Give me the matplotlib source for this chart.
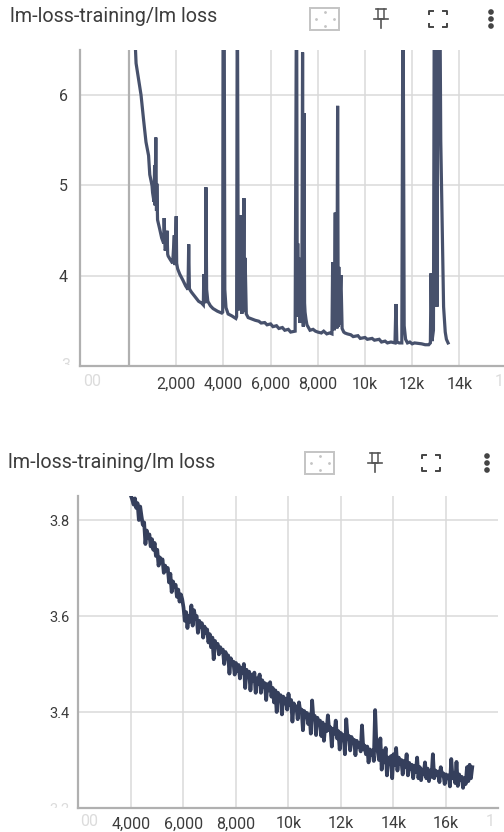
#!/usr/bin/env python3
" Two training loss panels "
import numpy as np
import matplotlib
matplotlib.use('Agg')
import matplotlib.pyplot as plt
from matplotlib.patches import Rectangle, Circle
from matplotlib.transforms import Bbox

plt.rcParams['font.family'] = ['Roboto', 'DejaVu Sans']

title = 'lm-loss-training/lm loss'

top_steps = [250, 300, 400, 510, 620, 720, 780, 830, 880, 975, 1000, 1060, 1085, 1105,
             1125, 1136, 1165, 1180, 1210, 1300, 1385, 1470, 1490, 1530, 1590, 1610, 1640,
             1660, 1750, 1850, 1920, 1950, 2000, 2020, 2060, 2150, 2290, 2400, 2500,
             2530, 2560, 2600, 2650, 2800, 2950, 3080, 3150, 3170, 3200, 3240, 3260,
             3290, 3340, 3450, 3560, 3750, 3930, 3970, 3990, 4030, 4060, 4110, 4200,
             4350, 4530, 4560, 4590, 4630, 4660, 4680, 4710, 4750, 4780, 4800, 4830,
             4870, 4900, 4920, 4970, 5050,
             5150, 5250, 5350, 5500, 5600, 5750, 5850, 6000, 6100, 6250, 6350, 6500,
             6600, 6750, 6850, 6950, 7040, 7100, 7130, 7150, 7180, 7210, 7250,
             7280, 7320, 7355, 7385, 7415, 7440, 7460, 7500, 7540, 7670, 7800, 7900, 8000,
             8150, 8250, 8380, 8500,
             8600, 8630, 8650, 8670, 8700, 8740, 8760, 8780, 8810, 8840, 8865, 8890, 8930,
             8950, 8980, 9030, 9100, 9150, 9250,
             9400, 9500, 9700, 9800, 10000, 10100, 10300, 10400, 10600, 10700, 10850, 10950,
             11100, 11270, 11310, 11350, 11450,
             11560, 11610, 11660, 11720, 11800, 11900, 12000, 12100, 12400, 12550, 12700, 12770, 12800,
             12840, 12900, 12940, 12990, 13050, 13110, 13165, 13210, 13270, 13330,
             13400, 13450, 13520]
top_loss = [6.65, 6.35, 6.18, 6.00, 5.72, 5.48, 5.40, 5.33, 5.12, 5.00, 4.92, 4.82, 5.22, 4.78,
            5.25, 5.53, 4.72, 5.02, 4.62, 4.52, 4.42, 4.36, 4.64, 4.28, 4.32, 4.50, 4.24,
            4.22, 4.18, 4.14, 4.45, 4.12, 4.66, 4.14, 4.08, 4.02, 3.95, 3.89, 3.85,
            4.35, 3.86, 3.84, 3.82, 3.77, 3.72, 3.70, 3.68, 4.02, 3.72, 3.70, 4.98,
            3.85, 3.72, 3.67, 3.64, 3.61, 3.59, 3.60, 7.50, 7.50, 3.85, 3.65, 3.58,
            3.56, 3.53, 3.55, 7.50, 3.73, 4.30, 3.62, 4.25, 4.67, 3.58, 4.30, 3.60,
            4.86, 3.62, 4.20, 3.58, 3.54,
            3.53, 3.52, 3.51, 3.50, 3.48, 3.485, 3.46, 3.47, 3.44, 3.45, 3.42, 3.43,
            3.40, 3.41, 3.38, 3.385, 3.39, 7.50, 3.60, 4.36, 3.55, 4.20, 3.48,
            3.90, 3.52, 6.47, 3.44, 5.80, 3.70, 3.60, 3.52, 3.46, 3.40, 3.41, 3.39, 3.38,
            3.37, 3.39, 3.36, 3.37,
            3.36, 4.15, 3.42, 3.95, 3.40, 4.70, 3.44, 4.30, 3.42, 5.88, 3.44, 4.10, 3.46,
            3.80, 4.01, 3.42, 3.38, 3.37, 3.36,
            3.35, 3.33, 3.34, 3.31, 3.32, 3.30, 3.31, 3.29, 3.30, 3.27, 3.28, 3.26,
            3.27, 3.26, 3.69, 3.27, 3.26,
            3.26, 7.50, 3.45, 3.30, 3.26, 3.27, 3.25, 3.26, 3.25, 3.24, 3.24, 3.26, 4.03,
            3.28, 3.40, 7.50, 7.50, 3.66, 7.50, 7.50, 5.50, 4.60, 3.66,
            3.38, 3.30, 3.26]

bottom_steps = np.arange(4000, 17050, 50)
bottom_loss = [
    3.850, 3.842, 3.832, 3.845, 3.825, 3.835, 3.800, 3.828, 3.808, 3.790,
    3.795, 3.750, 3.778, 3.762, 3.770, 3.745, 3.760, 3.738, 3.752, 3.725,
    3.738, 3.705, 3.722, 3.712, 3.718, 3.690, 3.705, 3.695, 3.700, 3.670,
    3.688, 3.650, 3.672, 3.660, 3.665, 3.640, 3.655, 3.630, 3.645, 3.635,
    3.618, 3.590, 3.608, 3.575, 3.600, 3.588, 3.622, 3.580, 3.612, 3.595,
    3.600, 3.565, 3.590, 3.578, 3.585, 3.555, 3.578, 3.565, 3.572, 3.545,
    3.562, 3.535, 3.555, 3.510, 3.548, 3.535, 3.542, 3.520, 3.535, 3.525,
    3.530, 3.500, 3.525, 3.512, 3.518, 3.480, 3.512, 3.500, 3.505, 3.478,
    3.502, 3.485, 3.498, 3.470, 3.492, 3.482, 3.500, 3.450, 3.488, 3.475,
    3.484, 3.445, 3.478, 3.465, 3.482, 3.440, 3.470, 3.458, 3.478, 3.440,
    3.466, 3.452, 3.460, 3.425, 3.458, 3.445, 3.462, 3.432, 3.450, 3.420,
    3.445, 3.400, 3.440, 3.428, 3.435, 3.395, 3.432, 3.418, 3.428, 3.405,
    3.438, 3.415, 3.425, 3.380, 3.418, 3.405, 3.412, 3.385, 3.420, 3.400,
    3.405, 3.362, 3.402, 3.390, 3.398, 3.375, 3.395, 3.355, 3.424, 3.385,
    3.392, 3.352, 3.388, 3.375, 3.382, 3.350, 3.378, 3.340, 3.372, 3.360,
    3.393, 3.362, 3.368, 3.328, 3.365, 3.355, 3.382, 3.345, 3.360, 3.322,
    3.356, 3.342, 3.352, 3.312, 3.385, 3.345, 3.350, 3.320, 3.348, 3.335,
    3.342, 3.310, 3.340, 3.328, 3.335, 3.318, 3.372, 3.322, 3.330, 3.312,
    3.328, 3.295, 3.322, 3.310, 3.320, 3.298, 3.404, 3.330, 3.318, 3.300,
    3.345, 3.280, 3.318, 3.295, 3.325, 3.268, 3.305, 3.292, 3.308, 3.262,
    3.312, 3.290, 3.325, 3.278, 3.305, 3.292, 3.300, 3.270, 3.298, 3.285,
    3.312, 3.268, 3.294, 3.282, 3.290, 3.262, 3.288, 3.275, 3.305, 3.262,
    3.285, 3.258, 3.280, 3.270, 3.295, 3.262, 3.282, 3.256, 3.278, 3.265,
    3.312, 3.262, 3.278, 3.268, 3.276, 3.254, 3.285, 3.268, 3.272, 3.250,
    3.270, 3.262, 3.268, 3.245, 3.302, 3.262, 3.272, 3.252, 3.296, 3.246,
    3.270, 3.258, 3.265, 3.242, 3.262, 3.250, 3.285, 3.256, 3.290, 3.262,
    3.285]

top_xticks = [2000, 4000, 6000, 8000, 10000, 12000, 14000]
top_xlabels = ['2,000', '4,000', '6,000', '8,000', '10k', '12k', '14k']
top_yticks = [4, 5, 6]
bottom_xticks = [4000, 6000, 8000, 10000, 12000, 14000, 16000]
bottom_xlabels = ['4,000', '6,000', '8,000', '10k', '12k', '14k', '16k']
bottom_yticks = [3.4, 3.6, 3.8]
bottom_ylabels = ['3.4', '3.6', '3.8']

W, H = 504, 832
GRID = '#dadada'
AXIS = '#b0b0b0'
TEXT = '#3c3c3c'
FADE = '#dcdcdc'

fig = plt.figure(figsize=(W / 100, H / 100), dpi=100)


def panel(left, right, top, bottom, xlim, ylim):
    ax = fig.add_axes([left / W, 1 - bottom / H, (right - left) / W, (bottom - top) / H])
    ax.set_xlim(xlim)
    ax.set_ylim(ylim)
    for s in ['top', 'right']:
        ax.spines[s].set_visible(False)
    for s in ['left', 'bottom']:
        ax.spines[s].set_color(AXIS)
        ax.spines[s].set_linewidth(1.6)
    ax.grid(True, color=GRID, linewidth=1.1)
    ax.set_axisbelow(True)
    ax.tick_params(length=0, labelsize=11.5, labelcolor=TEXT)
    return ax


ax1 = panel(80, 504, 50, 366, (-2076, 15890), (3.005, 6.497))
ax1.axvline(0, color=AXIS, linewidth=1.6, zorder=1)
ax1.plot(top_steps, top_loss, color='#47516c', linewidth=2.3, solid_joinstyle='miter')
ax1.set_xticks(top_xticks, top_xlabels)
ax1.set_yticks(top_yticks, [str(v) for v in top_yticks])
ax1.tick_params(axis='x', pad=8)
ax1.tick_params(axis='y', pad=9, labelsize=11.5)

ax2 = panel(78, 498, 496, 808, (1981, 17981), (3.2, 3.85))
ax2.plot(bottom_steps, bottom_loss, color='#353f5c', linewidth=2.7)
ax2.set_xticks(bottom_xticks, bottom_xlabels)
ax2.set_yticks(bottom_yticks, bottom_ylabels)
ax2.tick_params(axis='x', pad=6)
ax2.tick_params(axis='y', pad=6, labelsize=10.5)

# overlay in pixel coords for the header and the faded cut off labels
ov = fig.add_axes([0, 0, 1, 1])
ov.set_xlim(0, W)
ov.set_ylim(H, 0)
ov.axis('off')
ov.patch.set_alpha(0)

ov.text(10, 17, title, fontsize=14.2, color=TEXT, va='center', ha='left')
ov.text(8, 463, title, fontsize=14.2, color=TEXT, va='center', ha='left')

ov.text(92, 382, '00', fontsize=11.5, color=FADE, ha='center', va='center')
ov.text(499, 382, '1', fontsize=11.5, color=FADE, ha='center', va='center')
ov.text(89, 822, '00', fontsize=11.5, color=FADE, ha='center', va='center')
ov.text(490, 822, '1', fontsize=11.5, color=FADE, ha='center', va='center')

t = ov.text(66, 366, '3', fontsize=11.5, color=FADE, ha='center', va='center')
t.set_clip_box(Bbox([[0, H - 365], [W, H - 358]]))
t.set_clip_on(True)
t = ov.text(59, 810, '3.2', fontsize=10.5, color=FADE, ha='center', va='center')
t.set_clip_box(Bbox([[0, H - 808], [W, H - 802]]))
t.set_clip_on(True)


def icons(x_box, x_pin, x_full, x_dots, yc):
    ov.add_patch(Rectangle((x_box, yc - 11), 29, 22, fill=False, ec='#c4c4c4', lw=1.4))
    for dx, dy in [(0, -7), (0, 7), (-9, 0), (9, 0)]:
        ov.plot(x_box + 14.5 + dx, yc + dy, marker='.', ms=2, color='#c4c4c4')
    # pin
    ov.plot([x_pin - 5, x_pin + 5], [yc - 10, yc - 10], color='#555555', lw=1.2)
    ov.plot([x_pin - 3, x_pin - 3, x_pin + 3, x_pin + 3], [yc - 10, yc, yc, yc - 10], color='#555555', lw=1.1)
    ov.plot([x_pin - 7, x_pin + 7], [yc, yc], color='#555555', lw=1.2)
    ov.plot([x_pin, x_pin], [yc, yc + 9], color='#555555', lw=1.2)
    # fullscreen corners
    for sx, sy in [(-1, -1), (1, -1), (-1, 1), (1, 1)]:
        cx, cy = x_full + sx * 9, yc + sy * 8
        ov.plot([cx - sx * 4, cx, cx], [cy, cy, cy - sy * 3], color='#444444', lw=1.4)
    # menu dots
    for dy in [-7, 0, 7]:
        ov.add_patch(Circle((x_dots, yc + dy), 2.1, color='#444444'))


icons(310, 381, 438, 491, 19)
icons(305, 375, 431, 487, 463)

fig.savefig('out.png', dpi=100)
